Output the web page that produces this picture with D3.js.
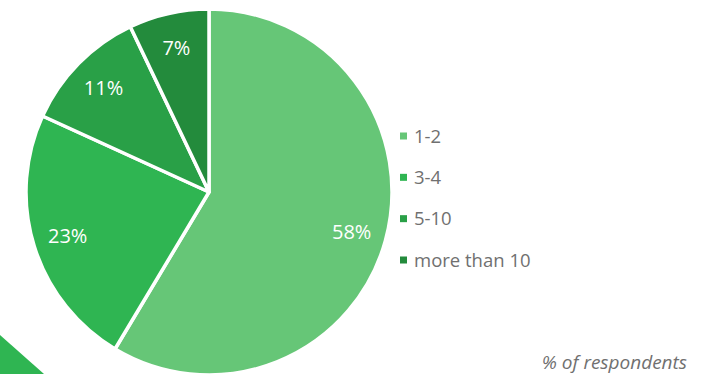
<!DOCTYPE html>
<html>
<head>
<meta charset="utf-8">
<script src="https://cdn.jsdelivr.net/npm/d3@7"></script>
<style>
  html, body { margin: 0; padding: 0; background: #ffffff; }
  svg { display: block; }
  text { font-family: "Open Sans", "Noto Sans", sans-serif; }
</style>
</head>
<body>
<svg id="chart" width="706" height="374"></svg>
<script>
// Number of items, share of respondents
const categories = ["1-2", "3-4", "5-10", "more than 10"];
const shares = [58, 23, 11, 7];
const sliceColors = ["#66c677", "#2fb552", "#29a047", "#238b3c"];
const footnote = "% of respondents";

const svg = d3.select("#chart");
const cx = 209, cy = 192, R = 183;

// Decorative corner wedge
svg.append("path")
  .attr("d", d3.line()([[0, 335], [44, 374], [0, 374]]) + "Z")
  .attr("fill", "#2fb552");

const color = d3.scaleOrdinal().domain(categories).range(sliceColors);

const pie = d3.pie().sort(null).value(d => d.value);
const arcs = pie(categories.map((c, i) => ({ cat: c, value: shares[i] })));

const arc = d3.arc().innerRadius(0).outerRadius(R);
const labelArc = d3.arc().innerRadius(148).outerRadius(148);

const g = svg.append("g").attr("transform", `translate(${cx},${cy})`);

g.selectAll("path.slice")
  .data(arcs)
  .join("path")
  .attr("class", "slice")
  .attr("d", arc)
  .attr("fill", d => color(d.data.cat))
  .attr("stroke", "#ffffff")
  .attr("stroke-width", 3.5)
  .attr("stroke-linejoin", "round");

g.selectAll("text.lbl")
  .data(arcs)
  .join("text")
  .attr("class", "lbl")
  .attr("transform", d => `translate(${labelArc.centroid(d)})`)
  .attr("text-anchor", "middle")
  .attr("dy", "0.36em")
  .attr("fill", "#ffffff")
  .attr("font-size", 20)
  .text(d => d.data.value + "%");

// Legend
const legend = svg.append("g").attr("transform", "translate(400,136)");
const rowY = d3.scalePoint().domain(categories).range([0, 124]);

const rows = legend.selectAll("g.row")
  .data(categories)
  .join("g")
  .attr("class", "row")
  .attr("transform", d => `translate(0,${rowY(d)})`);

rows.append("rect")
  .attr("x", 0).attr("y", -3.5)
  .attr("width", 7).attr("height", 7)
  .attr("fill", d => color(d));

rows.append("text")
  .attr("x", 14)
  .attr("dy", "0.36em")
  .attr("fill", "#707070")
  .attr("font-size", 18.5)
  .text(d => d);

svg.append("text")
  .attr("x", 687)
  .attr("y", 369)
  .attr("text-anchor", "end")
  .attr("fill", "#707070")
  .attr("font-size", 19)
  .attr("font-style", "italic")
  .text(footnote);
</script>
</body>
</html>
